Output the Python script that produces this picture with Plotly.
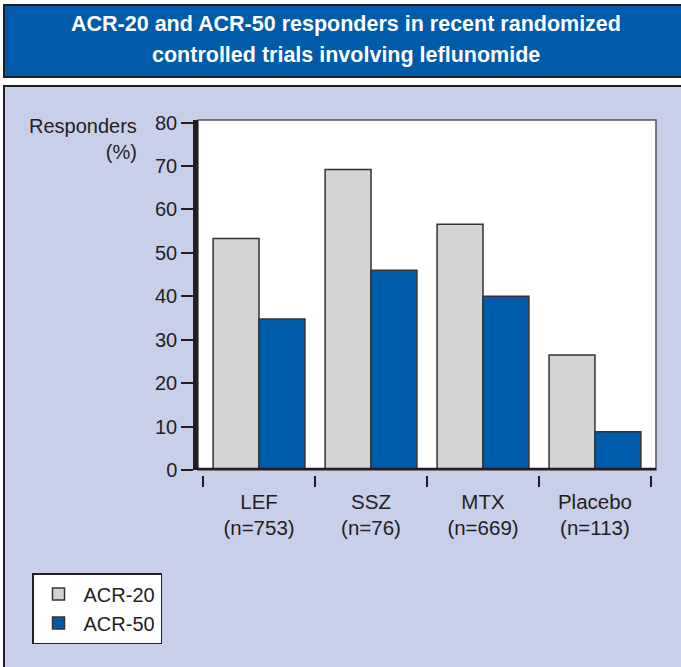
import plotly.graph_objects as go

categories = ["LEF<br>(n=753)", "SSZ<br>(n=76)", "MTX<br>(n=669)", "Placebo<br>(n=113)"]
acr20 = [53.3, 69.2, 56.6, 26.5]
acr50 = [34.8, 46.0, 40.0, 8.8]
series_names = ["ACR-20", "ACR-50"]
y_ticks = [0, 10, 20, 30, 40, 50, 60, 70, 80]
title_lines = ["ACR-20 and ACR-50 responders in recent randomized",
               "controlled trials involving leflunomide"]
ylabel_text = "Responders<br>(%)"

FIG_W, FIG_H = 681, 667
L, R = 198, 656          # plot area in px
T, PB = 120, 475         # plot top px, paper bottom px
PLOT_BOTTOM = 470        # y=0 px
W = R - L
H = PB - T


def px_x(p):
    return (p - L) / W


def px_y(p):
    return (PB - p) / H


DARK = "#231F20"
BLUE = "#005BAA"
GRAY = "#D1D3D4"
PANEL = "#C8CFE8"
FONT = "Liberation Sans, Arial, sans-serif"

fig = go.Figure()
fig.add_trace(go.Bar(x=categories, y=acr20, name=series_names[0],
                     marker=dict(color=GRAY, line=dict(color="#333333", width=1.5))))
fig.add_trace(go.Bar(x=categories, y=acr50, name=series_names[1],
                     marker=dict(color=BLUE, line=dict(color="#333333", width=1.5))))

shapes = [
    # panel
    dict(type="rect", xref="paper", yref="paper", layer="below",
         x0=px_x(4), x1=px_x(700), y0=px_y(700), y1=px_y(86),
         fillcolor=PANEL, line=dict(color=DARK, width=2)),
    # title box
    dict(type="rect", xref="paper", yref="paper", layer="below",
         x0=px_x(4), x1=px_x(700), y0=px_y(77), y1=px_y(5),
         fillcolor=BLUE, line=dict(color=DARK, width=2)),
    # white plot area
    dict(type="rect", xref="x domain", yref="y domain", layer="below",
         x0=0, x1=1, y0=0, y1=1,
         fillcolor="white", line=dict(color="#555555", width=1.5)),
    # thick baseline
    dict(type="line", xref="x domain", yref="y", layer="above",
         x0=-0.005, x1=1, y0=0, y1=0,
         line=dict(color=DARK, width=4.5)),
]

annotations = [
    dict(text="<b>" + title_lines[0] + "</b>", xref="paper", yref="paper",
         x=px_x(346), y=px_y(24), xanchor="center", yanchor="middle",
         showarrow=False, font=dict(family=FONT, size=21.5, color="white")),
    dict(text="<b>" + title_lines[1] + "</b>", xref="paper", yref="paper",
         x=px_x(346), y=px_y(55), xanchor="center", yanchor="middle",
         showarrow=False, font=dict(family=FONT, size=21.5, color="white")),
    dict(text=ylabel_text, xref="paper", yref="paper",
         x=px_x(139), y=px_y(139), xanchor="right", yanchor="middle", align="right",
         showarrow=False, font=dict(family=FONT, size=20, color=DARK)),
]

fig.update_layout(
    width=FIG_W, height=FIG_H,
    margin=dict(l=L, r=FIG_W - R, t=T, b=FIG_H - PB, pad=0),
    paper_bgcolor="white", plot_bgcolor="rgba(0,0,0,0)",
    barmode="group", bargap=0.18, bargroupgap=0,
    shapes=shapes, annotations=annotations,
    showlegend=True,
    legend=dict(x=px_x(32), y=px_y(573), xanchor="left", yanchor="top",
                bgcolor="white", bordercolor=DARK, borderwidth=1.5,
                font=dict(family=FONT, size=20, color=DARK), itemwidth=40),
    xaxis=dict(type="category", range=[-0.545, 3.545], anchor="free", position=0,
               showline=False, showgrid=False, zeroline=False,
               ticks="outside", tickson="boundaries", ticklen=11, tickwidth=1.5,
               tickcolor=DARK, ticklabelstandoff=12,
               tickfont=dict(family=FONT, size=20.5, color=DARK)),
    yaxis=dict(range=[0, 80.6], domain=[px_y(PLOT_BOTTOM), 1], anchor="x",
               showline=True, linewidth=4.5, linecolor=DARK,
               showgrid=False, zeroline=False,
               tickmode="array", tickvals=y_ticks,
               ticks="outside", ticklen=12, tickwidth=1.5, tickcolor=DARK,
               tickfont=dict(family=FONT, size=20, color=DARK)),
)

fig.write_html("out.html", config={"displayModeBar": False},
               post_script="document.body.style.margin='0';")
